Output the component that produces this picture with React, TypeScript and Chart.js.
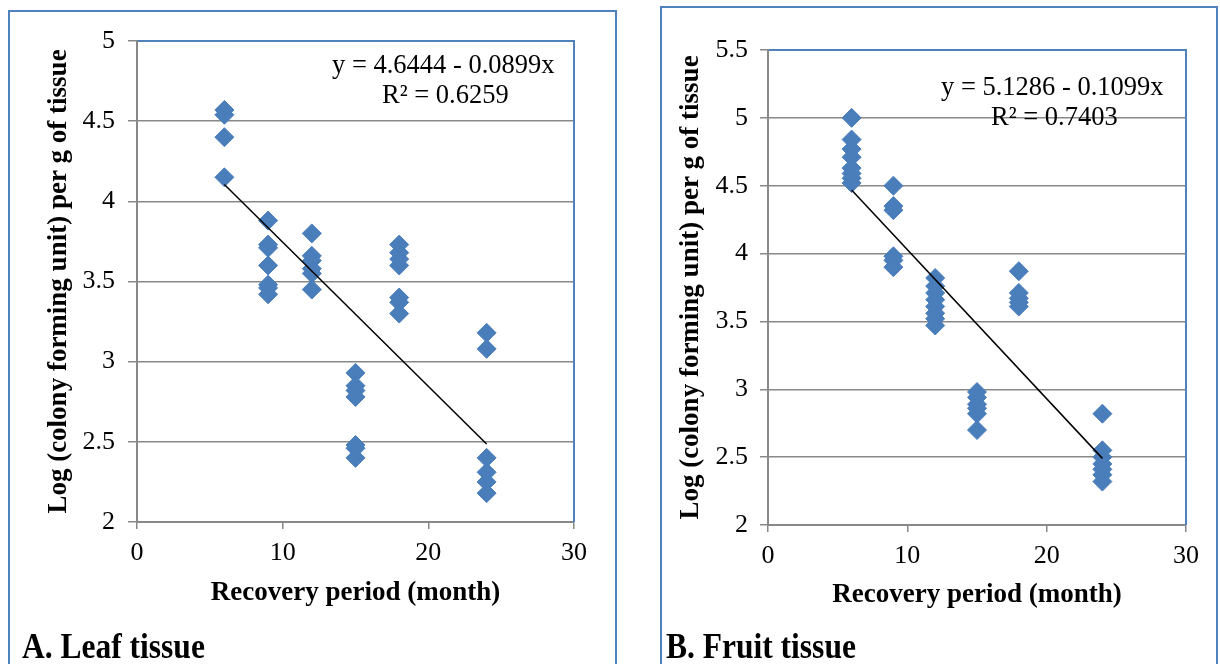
import React, { useEffect, useRef } from 'react';
import { Chart, registerables } from 'chart.js';

Chart.register(...registerables);

// ---------- Data ----------
const leafMonths = [6, 6, 6, 6, 9, 9, 9, 9, 9, 9, 9, 12, 12, 12, 12, 12, 12, 15, 15, 15, 15, 15, 15, 15, 18, 18, 18, 18, 18, 18, 18, 24, 24, 24, 24, 24, 24];
const leafLogCfu = [4.57, 4.54, 4.40, 4.15, 3.88, 3.73, 3.71, 3.60, 3.48, 3.46, 3.42, 3.80, 3.66, 3.63, 3.58, 3.55, 3.45, 2.93, 2.85, 2.82, 2.78, 2.48, 2.46, 2.40, 3.73, 3.68, 3.64, 3.60, 3.40, 3.37, 3.30, 3.18, 3.08, 2.40, 2.31, 2.25, 2.18];

const fruitMonths = [6, 6, 6, 6, 6, 6, 6, 6, 9, 9, 9, 9, 9, 9, 12, 12, 12, 12, 12, 12, 12, 12, 15, 15, 15, 15, 15, 15, 18, 18, 18, 18, 18, 24, 24, 24, 24, 24, 24, 24];
const fruitLogCfu = [5.00, 4.84, 4.77, 4.71, 4.63, 4.59, 4.555, 4.52, 4.50, 4.35, 4.32, 3.98, 3.95, 3.90, 3.82, 3.76, 3.71, 3.66, 3.61, 3.56, 3.52, 3.47, 2.98, 2.94, 2.89, 2.86, 2.82, 2.70, 3.87, 3.71, 3.67, 3.64, 3.61, 2.82, 2.55, 2.50, 2.45, 2.41, 2.37, 2.32];

const leafFit = [4.6444, -0.0899];
const fruitFit = [5.1286, -0.1099];
const fitRange = [6, 24];

const leafEquation = ['y = 4.6444 - 0.0899x', 'R² = 0.6259'];
const fruitEquation = ['y = 5.1286 - 0.1099x', 'R² = 0.7403'];

const xTitle = 'Recovery period (month)';
const yTitle = 'Log (colony forming unit) per g of tissue';

// ---------- Styles ----------
const FONT = "'Liberation Serif', 'Times New Roman', serif";
const MARKER = '#4a7ebb';
const FRAME = '#4f81bd';
const GRID = '#888888';

interface PanelProps {
  xs: number[];
  ys: number[];
  fit: number[];
  equation: string[];
  yMax: number;
  width: number;
  height: number;
  left: number;
  top: number;
  yAxisWidth: number;
  xAxisHeight: number;
  pad: { top: number; right: number; bottom: number };
  yTitlePad: number;
  yTickLen: number;
  yTickPad: number;
  eq: { x: number; y: number }[];
}

function Panel(p: PanelProps) {
  const ref = useRef<HTMLCanvasElement | null>(null);
  useEffect(() => {
    if (!ref.current) return;
    const points = p.xs.map((x, i) => ({ x, y: p.ys[i] }));
    const trend = fitRange.map((x) => ({ x, y: p.fit[0] + p.fit[1] * x }));
    const framePlugin = {
      id: 'frameEq',
      afterDraw(chart: any) {
        const { ctx, chartArea: a } = chart;
        ctx.save();
        ctx.strokeStyle = FRAME;
        ctx.lineWidth = 2;
        ctx.beginPath();
        ctx.moveTo(a.left + 1, a.top);
        ctx.lineTo(a.right, a.top);
        ctx.lineTo(a.right, a.bottom);
        ctx.stroke();
        ctx.fillStyle = '#000';
        ctx.font = `26.5px ${FONT}`;
        ctx.textAlign = 'left';
        ctx.textBaseline = 'alphabetic';
        p.equation.forEach((t, i) => ctx.fillText(t, p.eq[i].x, p.eq[i].y));
        ctx.restore();
      },
    };
    const fmt = (v: any) => `${+Number(v).toFixed(2)}`;
    const chart = new Chart(ref.current, {
      type: 'scatter',
      data: {
        datasets: [
          {
            type: 'line',
            data: trend,
            borderColor: '#000',
            borderWidth: 1.5,
            pointRadius: 0,
            fill: false,
          } as any,
          {
            data: points,
            pointStyle: 'rectRot',
            pointRadius: 9.5,
            backgroundColor: MARKER,
            borderColor: MARKER,
            borderWidth: 1,
          },
        ],
      },
      options: {
        animation: false,
        responsive: false,
        events: [],
        layout: { padding: { left: 0, top: p.pad.top, right: p.pad.right, bottom: p.pad.bottom } },
        plugins: { legend: { display: false }, tooltip: { enabled: false } },
        scales: {
          x: {
            type: 'linear',
            min: 0,
            max: 30,
            ticks: { stepSize: 10, color: '#000', font: { family: FONT, size: 26 }, padding: 9, maxRotation: 0, callback: fmt },
            grid: { drawOnChartArea: false, drawTicks: true, tickLength: 7, color: GRID, lineWidth: 1.5 },
            border: { color: GRID, width: 2 },
            title: { display: true, text: xTitle, color: '#000', font: { family: FONT, size: 27, weight: 'bold' }, padding: { top: 0, bottom: 0 } },
            afterFit: (s: any) => { s.height = p.xAxisHeight; },
          },
          y: {
            type: 'linear',
            min: 2,
            max: p.yMax,
            ticks: { stepSize: 0.5, color: '#000', font: { family: FONT, size: 26 }, padding: p.yTickPad, callback: fmt },
            grid: { drawTicks: true, tickLength: p.yTickLen, color: GRID, lineWidth: 1.5 },
            border: { color: GRID, width: 2 },
            title: { display: true, text: yTitle, color: '#000', font: { family: FONT, size: 27, weight: 'bold' }, padding: { top: p.yTitlePad, bottom: 0 } },
            afterFit: (s: any) => { s.width = p.yAxisWidth; },
          },
        },
      },
      plugins: [framePlugin],
    } as any);
    return () => chart.destroy();
  }, []);
  return (
    <canvas
      ref={ref}
      width={p.width}
      height={p.height}
      style={{ position: 'absolute', left: p.left, top: p.top, width: p.width, height: p.height }}
    />
  );
}

const borderStyle = (left: number, top: number, width: number): React.CSSProperties => ({
  position: 'absolute',
  left,
  top,
  width,
  height: 700,
  border: `2px solid ${FRAME}`,
  boxSizing: 'border-box',
});

const captionStyle = (left: number): React.CSSProperties => ({
  position: 'absolute',
  left,
  top: 627,
  fontFamily: FONT,
  fontWeight: 'bold',
  fontSize: 35,
  lineHeight: '40px',
  color: '#000',
  transform: 'scaleX(0.9)',
  transformOrigin: 'left top',
  whiteSpace: 'nowrap',
});

export default function App() {
  return (
    <div style={{ position: 'absolute', left: 0, top: 0, width: 1220, height: 664, overflow: 'hidden', background: '#fff' }}>
      <div style={borderStyle(8, 10, 609)} />
      <div style={borderStyle(660, 6, 558)} />
      <Panel
        xs={leafMonths}
        ys={leafLogCfu}
        fit={leafFit}
        equation={leafEquation}
        yMax={5}
        left={10}
        top={12}
        width={604}
        height={652}
        yAxisWidth={127}
        xAxisHeight={87}
        pad={{ top: 29, right: 40, bottom: 55 }}
        yTitlePad={33}
        yTickLen={9}
        yTickPad={13}
        eq={[{ x: 322, y: 61 }, { x: 372, y: 91 }]}
      />
      <Panel
        xs={fruitMonths}
        ys={fruitLogCfu}
        fit={fruitFit}
        equation={fruitEquation}
        yMax={5.5}
        left={663}
        top={9}
        width={553}
        height={655}
        yAxisWidth={105}
        xAxisHeight={86}
        pad={{ top: 41, right: 30, bottom: 53 }}
        yTitlePad={12}
        yTickLen={8}
        yTickPad={12}
        eq={[{ x: 278, y: 86 }, { x: 328, y: 116 }]}
      />
      <div style={captionStyle(22)}>A. Leaf tissue</div>
      <div style={captionStyle(666)}>B. Fruit tissue</div>
    </div>
  );
}
